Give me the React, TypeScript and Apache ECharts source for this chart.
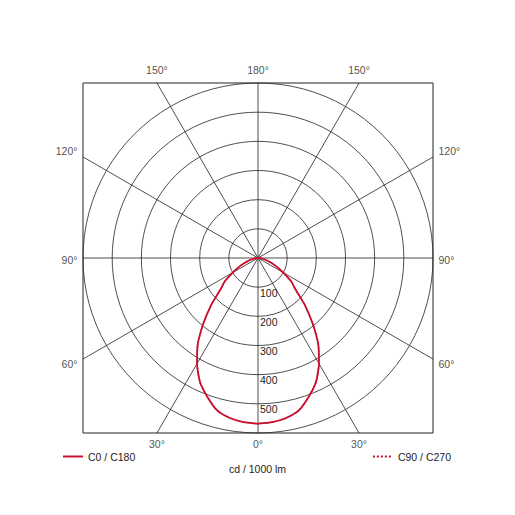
import { useEffect, useRef } from "react";
import * as echarts from "echarts";

// gamma angles (deg) and intensities (cd / 1000 lm)
const gammaDeg = [0, 5, 10, 15, 20, 25, 30, 35, 40, 45, 50, 55, 60, 65, 70, 75, 80, 85, 90];
const c0c180 = [568, 565, 557, 541, 507, 470, 418, 360, 290, 226, 168, 138, 100, 72, 48, 30, 15, 5, 0];
const c90c270 = [568, 565, 557, 541, 507, 470, 418, 360, 290, 226, 168, 138, 100, 72, 48, 30, 15, 5, 0];

const spokeAngles = [0, 30, 60, 90, 120, 150, 180];
const ringMax = 600;
const ringStep = 100;

const FONT = "Liberation Sans";
const INK = "#222";
const RED = "#c8102e";

// polar data: left half = gamma, right half = 360 - gamma
const toPolar = (vals: number[]) => {
    const left = gammaDeg.map((g, i) => [vals[i], g]);
    const right = gammaDeg.map((g, i) => [vals[i], 360 - g]).reverse();
    return [...left, ...right];
};

// spoke end on the square frame (x right, y up)
const spokeEnd = (g: number, side: number) => {
    const rad = (g * Math.PI) / 180;
    const dx = side * Math.sin(rad);
    const dy = -Math.cos(rad);
    const k = ringMax / Math.max(Math.abs(dx), Math.abs(dy));
    return [Math.round(dx * k * 1000) / 1000, Math.round(dy * k * 1000) / 1000];
};

export default function App() {
    const chartRef = useRef<HTMLDivElement>(null);

    useEffect(() => {
        if (!chartRef.current) return;
        const chart = echarts.init(chartRef.current, null, { renderer: "svg" });

        const spokes: { g: number; side: number }[] = [];
        spokeAngles.forEach((g) => {
            spokes.push({ g, side: -1 });
            if (g !== 0 && g !== 180) spokes.push({ g, side: 1 });
        });

        const spokeSeries = spokes.map((s) => ({
            type: "line",
            xAxisIndex: 0,
            yAxisIndex: 0,
            data: [[0, 0], spokeEnd(s.g, s.side)],
            symbol: "none",
            silent: true,
            lineStyle: { color: INK, width: 0.8 },
            z: 1,
        }));

        const labelData = spokes.map((s) => {
            let position = "bottom";
            let offset = [0, 0];
            let distance = 5;
            if (s.g >= 150) {
                position = "top";
                distance = 7;
            } else if (s.g >= 60) {
                position = s.side < 0 ? "left" : "right";
                offset = s.g === 60 ? [0, 5] : s.g === 120 ? [0, -6] : [0, 1.5];
            }
            return {
                name: s.g + "°",
                value: spokeEnd(s.g, s.side),
                label: { position, offset, distance },
            };
        });

        const legendBase = {
            itemWidth: 20,
            itemHeight: 10,
            itemGap: 5,
            padding: 0,
            itemStyle: { opacity: 0 },
            textStyle: { fontSize: 10.5, color: INK, fontFamily: FONT },
        };

        const option = {
            animation: false,
            textStyle: { fontFamily: FONT },
            title: {
                text: "cd / 1000 lm",
                left: "center",
                top: 455,
                padding: 0,
                textStyle: { fontSize: 10.5, fontWeight: "normal", color: INK, fontFamily: FONT },
            },
            legend: [
                { ...legendBase, data: ["C0 / C180"], left: 54, top: 443 },
                { ...legendBase, data: ["C90 / C270"], right: 56, top: 443 },
            ],
            polar: { center: [250, 250], radius: 175 },
            angleAxis: {
                type: "value",
                min: 0,
                max: 360,
                startAngle: 270,
                clockwise: true,
                axisLine: { show: false },
                axisTick: { show: false },
                axisLabel: { show: false },
                splitLine: { show: false },
            },
            radiusAxis: {
                type: "value",
                min: 0,
                max: ringMax,
                interval: ringStep,
                axisLine: { show: false },
                axisTick: { show: false },
                axisLabel: { show: false },
                splitLine: { show: true, lineStyle: { color: INK, width: 0.8 } },
            },
            grid: {
                left: 75,
                top: 75,
                width: 350,
                height: 350,
                show: true,
                borderColor: INK,
                borderWidth: 1,
                backgroundColor: "transparent",
            },
            xAxis: { type: "value", min: -ringMax, max: ringMax, show: false },
            yAxis: {
                type: "value",
                min: -ringMax,
                max: ringMax,
                interval: ringStep,
                position: "right",
                offset: -175,
                axisLine: { show: false },
                axisTick: { show: false },
                splitLine: { show: false },
                axisLabel: {
                    margin: 2,
                    verticalAlign: "top",
                    fontSize: 10.5,
                    color: INK,
                    fontFamily: FONT,
                    formatter: (v: number) => (v < 0 && v > -ringMax ? String(-v) : ""),
                },
            },
            series: [
                ...spokeSeries,
                {
                    type: "scatter",
                    xAxisIndex: 0,
                    yAxisIndex: 0,
                    symbolSize: 1,
                    itemStyle: { color: "transparent" },
                    silent: true,
                    label: {
                        show: true,
                        formatter: "{b}",
                        fontSize: 10.5,
                        color: INK,
                        fontFamily: FONT,
                    },
                    data: labelData,
                    z: 3,
                },
                {
                    name: "C90 / C270",
                    type: "line",
                    coordinateSystem: "polar",
                    data: toPolar(c90c270),
                    symbol: "none",
                    smooth: 0.2,
                    lineStyle: { color: RED, width: 1.5, type: "dotted" },
                    itemStyle: { color: RED },
                    z: 4,
                },
                {
                    name: "C0 / C180",
                    type: "line",
                    coordinateSystem: "polar",
                    data: toPolar(c0c180),
                    symbol: "none",
                    smooth: 0.2,
                    lineStyle: { color: RED, width: 1.8 },
                    itemStyle: { color: RED },
                    z: 5,
                },
            ],
        };

        chart.setOption(option);
        return () => chart.dispose();
    }, []);

    return <div ref={chartRef} style={{ width: "499px", height: "499px" }} />;
}
